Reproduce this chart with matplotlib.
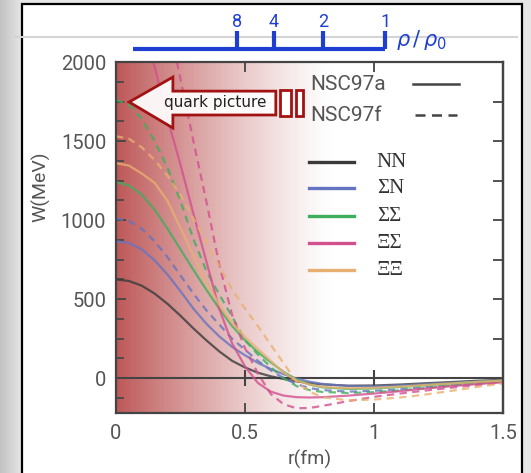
import numpy as np
import matplotlib
matplotlib.use("Agg")
import matplotlib.pyplot as plt
import matplotlib.transforms as mtransforms
from matplotlib.patches import Polygon, Rectangle
from matplotlib.ticker import MultipleLocator

# r grid (fm) shared by most curves
r = [0, .05, .1, .15, .2, .25, .3, .35, .4, .45, .5, .55, .6, .65, .7, .75, .8,
     .9, 1.0, 1.1, 1.2, 1.3, 1.4, 1.5]

# W(r) in MeV, NSC97a (solid) and NSC97f (dashed)
nn_a = [625, 615, 585, 535, 470, 395, 315, 240, 170, 110, 68, 35, 12, -5, -20, -31, -39,
        -47, -46, -40, -32, -24, -16, -10]
sn_a = [867, 855, 815, 745, 655, 550, 440, 345, 265, 198, 145, 97, 58, 25, -2, -22, -36,
        -50, -52, -46, -38, -29, -21, -14]
sn_f = [1010, 995, 945, 865, 765, 650, 535, 430, 340, 250, 180, 110, 50, 0, -38, -62, -75,
        -85, -80, -70, -56, -43, -31, -21]
ss_a = [1240, 1220, 1160, 1065, 945, 815, 685, 560, 440, 330, 240, 165, 100, 40, -8, -40, -58,
        -68, -65, -56, -45, -34, -23, -15]
ss_f = [1760, 1730, 1640, 1500, 1330, 1120, 880, 680, 530, 390, 240, 150, 70, 0, -50, -75, -87,
        -93, -88, -77, -62, -47, -33, -21]
xx_a = [1360, 1345, 1295, 1235, 1120, 950, 775, 610, 465, 350, 260, 185, 110, 35, -15, -40, -55,
        -63, -61, -53, -43, -33, -23, -15]
xx_f = [1530, 1515, 1460, 1380, 1280, 1160, 1010, 860, 710, 560, 440, 330, 210, 95, -25, -85, -120,
        -140, -135, -122, -103, -80, -55, -33]

# the steep XiSigma curves enter from the top edge
r_xs_a = [.145, .2, .25, .3, .35, .4, .45, .5, .55, .6, .65, .7, .75, .8, .9, 1.0, 1.1, 1.2, 1.3, 1.4, 1.5]
xs_a = [2000, 1640, 1350, 1040, 740, 440, 220, 75, -30, -85, -110, -120, -122, -120, -110, -97,
        -82, -65, -50, -37, -26]
r_xs_f = [.236, .25, .3, .35, .4, .45, .5, .55, .6, .65, .7, .75, .8, .9, 1.0, 1.1, 1.2, 1.3, 1.4, 1.5]
xs_f = [2000, 1890, 1500, 1120, 720, 400, 190, 30, -100, -165, -190, -188, -175, -145, -118, -97,
        -78, -60, -43, -28]

labels = ["NN", "ΣN", "ΣΣ", "ΞΣ", "ΞΞ"]
colors = ["#3a3a3a", "#6474c0", "#3fae5c", "#d2508e", "#e8b070"]

# top density scale
dens_labels = ["8", "4", "2", "1"]
dens_r = [0.469, 0.612, 0.802, 1.043]
dens_start = 0.066

xticks = [0, 0.5, 1, 1.5]
xticklabels = ["0", "0.5", "1", "1.5"]

plt.rcParams["font.family"] = ["Roboto", "DejaVu Sans"]

fig = plt.figure(figsize=(5.31, 4.73), dpi=100)
fig.patch.set_facecolor("#e6e6e6")

# slide frame
bg = fig.add_axes([0, 0, 1, 1], zorder=-10)
bg.axis("off")
strip = np.linspace(0.76, 0.9, 50)[None, :]
bg.imshow(strip, cmap="gray", vmin=0, vmax=1, extent=(0, 22, 473, 0), aspect="auto")
bg.add_patch(Rectangle((22, 4), 500, 480, facecolor="white", edgecolor="black", lw=1.6))
bg.plot([15, 517], [37, 37], color="#d4d4d4", lw=1.5)
bg.set_xlim(0, 531)
bg.set_ylim(473, 0)

ax = fig.add_axes([116 / 531, 60 / 473, 387 / 531, 351 / 473])

# red gradient for the quark-core region
gx = np.linspace(0, 1.5, 400)
alpha = 0.8 * np.clip(1 - gx / 0.85, 0, 1) ** 1.3
rgba = np.zeros((1, 400, 4))
rgba[..., 0] = 0.68
rgba[..., 1] = 0.18
rgba[..., 2] = 0.18
rgba[..., 3] = alpha
ax.imshow(rgba, extent=(0, 1.5, -220, 2000), aspect="auto", zorder=0, interpolation="bilinear")

ax.axhline(0, color="#444444", lw=1.5, zorder=1)
zero_ticks = [t for t in xticks if 0 < t < 1.5]
ax.plot(zero_ticks, [0] * len(zero_ticks), ls="none", marker="|", ms=12, mew=1.5, color="#444444", zorder=1)

solid = [(r, nn_a), (r, sn_a), (r, ss_a), (r_xs_a, xs_a), (r, xx_a)]
dashed = [None, (r, sn_f), (r, ss_f), (r_xs_f, xs_f), (r, xx_f)]
for i in range(5):
    ax.plot(solid[i][0], solid[i][1], color=colors[i], lw=1.6, alpha=0.8, zorder=2)
    if dashed[i] is not None:
        ax.plot(dashed[i][0], dashed[i][1], color=colors[i], lw=1.6, alpha=0.8,
                dashes=(3.3, 2.4), zorder=2)

ax.set_xlim(0, 1.5)
ax.set_ylim(-220, 2000)
ax.set_xticks(xticks)
ax.set_xticklabels(xticklabels)
ax.set_yticks([0, 500, 1000, 1500, 2000])
ax.yaxis.set_minor_locator(MultipleLocator(125))
ax.tick_params(which="major", direction="in", length=7, width=1.3, top=True, right=False,
               colors="#444444", labelcolor="#555555", labelsize=14.5)
ax.tick_params(axis="x", pad=8)
ax.tick_params(axis="y", pad=7)
ax.tick_params(which="minor", direction="in", length=6, width=1.2, right=False, colors="#444444")
sec = ax.secondary_yaxis("right")
sec.set_yticks(list(range(0, 2001, 250)))
sec.tick_params(direction="in", length=7, width=1.3, labelright=False, colors="#444444")
sec.spines["right"].set_color("#444444")
sec.spines["right"].set_linewidth(1.6)
for s in ax.spines.values():
    s.set_color("#444444")
    s.set_linewidth(1.6)

ax.text(-0.194, 0.645, "W(MeV)", rotation=90, ha="center", va="center", fontsize=14,
        color="#555555", transform=ax.transAxes)
ax.text(0.5, -0.105, "r(fm)", ha="center", va="top", fontsize=14, color="#555555",
        transform=ax.transAxes)

# density scale on top
blue = "#1f3fd2"
trans = mtransforms.blended_transform_factory(ax.transData, ax.transAxes)
ax.plot([dens_start, dens_r[-1]], [1.037, 1.037], color=blue, lw=3, transform=trans,
        clip_on=False, solid_capstyle="butt")
ax.vlines(dens_r, 1.037, 1.087, colors=blue, lw=3, transform=trans, clip_on=False)
for lab, xr in zip(dens_labels, dens_r):
    ax.text(xr, 1.114, lab, ha="center", va="center", fontsize=13, color=blue,
            transform=trans, clip_on=False)
ax.text(1.085, 1.063, r"$\rho\,/\,\rho_0$", ha="left", va="center", fontsize=15, color=blue,
        transform=trans, clip_on=False)

# "quark picture" arrow
arrow = [(0.034, 0.886), (0.147, 0.957), (0.147, 0.917), (0.413, 0.917), (0.413, 0.849),
         (0.147, 0.849), (0.147, 0.812)]
ax.add_patch(Polygon(arrow, closed=True, facecolor="white", alpha=0.92, edgecolor="none",
                     transform=ax.transAxes, zorder=6))
ax.add_patch(Polygon(arrow, closed=True, facecolor="none", edgecolor="#a31212", lw=2,
                     transform=ax.transAxes, zorder=6))
ax.add_patch(Rectangle((0.424, 0.846), 0.028, 0.074, facecolor="white", edgecolor="#a31212",
                       lw=2, transform=ax.transAxes, zorder=6))
ax.add_patch(Rectangle((0.465, 0.846), 0.018, 0.074, facecolor="white", edgecolor="#a31212",
                       lw=2, transform=ax.transAxes, zorder=6))
ax.text(0.256, 0.884, "quark picture", ha="center", va="center", fontsize=11,
        family="DejaVu Sans", color="#222222", transform=ax.transAxes, zorder=7)

# legend: parameter sets
ax.text(0.501, 0.937, "NSC97a", ha="left", va="center", fontsize=15, color="#555555",
        transform=ax.transAxes, zorder=7)
ax.text(0.501, 0.849, "NSC97f", ha="left", va="center", fontsize=15, color="#555555",
        transform=ax.transAxes, zorder=7)
ax.plot([0.767, 0.886], [0.937, 0.937], color="#444444", lw=1.8, transform=ax.transAxes, zorder=7)
ax.plot([0.772, 0.88], [0.849, 0.849], color="#444444", lw=1.8, dashes=(4, 2.6),
        transform=ax.transAxes, zorder=7)

# legend: channels
rows = [0.715, 0.641, 0.561, 0.484, 0.407]
for lab, col, yy in zip(labels, colors, rows):
    ax.plot([0.499, 0.615], [yy, yy], color=col, lw=2.4, transform=ax.transAxes, zorder=7)
    ax.text(0.674, yy, lab, ha="left", va="center", fontsize=15, family="Liberation Serif",
            color="#333333", transform=ax.transAxes, zorder=7)

fig.savefig("out.png", dpi=100)
